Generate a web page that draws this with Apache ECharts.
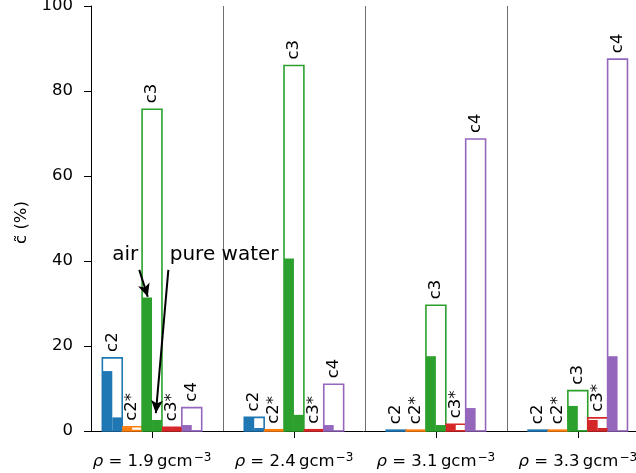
<!DOCTYPE html>
<html>
<head>
<meta charset="utf-8">
<script src="https://cdn.jsdelivr.net/npm/echarts@6/dist/echarts.min.js"></script>
<style>
  html, body { margin: 0; padding: 0; background: #fff; }
  #chart { width: 636px; height: 473px; }
</style>
</head>
<body>
<div id="chart"></div>
<script>
// densities (x groups) and species (bars inside a group)
const densities = ['1.9', '2.4', '3.1', '3.3'];
const species = ['c2', 'c2*', 'c3', 'c3*', 'c4'];
const colors = ['#1f77b4', '#ff7f0e', '#2ca02c', '#d62728', '#9467bd'];
const yTicks = [0, 20, 40, 60, 80, 100];

// rows = densities, columns = species (%)
const totalVals = [
  [17.2, 1.0, 75.7, 0.9, 5.5],
  [3.2, 0.3, 86.0, 0.3, 11.0],
  [0.2, 0.2, 29.6, 1.6, 68.7],
  [0.2, 0.2, 9.5, 3.1, 87.5]
];
const airVals = [
  [14.1, 0.9, 31.4, 0.8, 1.4],
  [3.2, 0.2, 40.6, 0.2, 1.4],
  [0.1, 0.1, 17.6, 1.5, 5.4],
  [0.1, 0.1, 5.9, 2.6, 17.6]
];
const waterVals = [
  [3.2, 0.3, 2.6, 0.7, 0.2],
  [0.7, 0.1, 3.8, 0.1, 0.1],
  [0.1, 0.1, 1.4, 0.2, 0.1],
  [0.1, 0.1, 0.2, 0.7, 0.1]
];

const BAR_W = 0.14;
const FONT = 'DejaVu Sans';

function toRows(table) {
  const rows = [];
  table.forEach((row, i) => row.forEach((v, j) => rows.push([i, j, v])));
  return rows;
}

function barX(i, j) {
  return i + (j - 2) * BAR_W;
}

// hollow bar + rotated species label
function outlineItem(params, api) {
  const i = api.value(0), j = api.value(1), v = api.value(2);
  const xc = barX(i, j);
  const p0 = api.coord([xc - BAR_W / 2, 0]);
  const p1 = api.coord([xc + BAR_W / 2, v]);
  const mid = api.coord([xc, v]);
  return {
    type: 'group',
    children: [{
      type: 'rect',
      shape: { x: p0[0], y: p1[1], width: p1[0] - p0[0], height: p0[1] - p1[1] },
      style: { fill: '#fff', stroke: colors[j], lineWidth: 1.6 }
    }, {
      type: 'text',
      x: mid[0], y: mid[1] - 6,
      rotation: Math.PI / 2,
      style: {
        text: species[j], fill: '#000', font: '16.5px "' + FONT + '"',
        align: 'left', verticalAlign: 'middle'
      }
    }]
  };
}

// filled half bar: side -1 = left half (air), +1 = right half (pure water)
function halfItem(side) {
  return function (params, api) {
    const i = api.value(0), j = api.value(1), v = api.value(2);
    const xc = barX(i, j);
    const xa = side < 0 ? xc - BAR_W / 2 : xc;
    const p0 = api.coord([xa, 0]);
    const p1 = api.coord([xa + BAR_W / 2, v]);
    return {
      type: 'rect',
      shape: { x: p0[0], y: p1[1], width: p1[0] - p0[0], height: p0[1] - p1[1] },
      style: { fill: colors[j] }
    };
  };
}

const chart = echarts.init(document.getElementById('chart'), null, { renderer: 'canvas' });

const option = {
  animation: false,
  grid: { left: 91, right: 0, top: 6, bottom: 42, outerBoundsMode: 'none' },
  xAxis: {
    type: 'value',
    min: -0.43,
    max: 3.41,
    splitLine: { show: false },
    axisLine: { onZero: false, lineStyle: { color: '#000', width: 1 } },
    axisTick: { customValues: [0, 1, 2, 3], length: 7, lineStyle: { color: '#000', width: 1 } },
    axisLabel: {
      customValues: [0, 1, 2, 3],
      margin: 21,
      color: '#000',
      fontFamily: FONT,
      fontSize: 16.5,
      formatter: v => '{i|ρ} = ' + densities[Math.round(v)] + '\u2009gcm{s|−3}',
      rich: {
        i: { fontStyle: 'italic', fontFamily: FONT, fontSize: 16.5, color: '#000' },
        s: { fontFamily: FONT, fontSize: 12, color: '#000', verticalAlign: 'top', padding: [0, 0, 8, 1] }
      }
    }
  },
  yAxis: {
    type: 'value',
    min: 0,
    max: 100,
    interval: 20,
    name: 'c̃ (%)',
    nameLocation: 'middle',
    nameRotate: 90,
    nameGap: 60,
    nameTextStyle: { color: '#000', fontFamily: FONT, fontSize: 16.5, padding: [0, 8, 0, 0] },
    splitLine: { show: false },
    axisLine: { show: true, onZero: false, lineStyle: { color: '#000', width: 1 } },
    axisTick: { show: true, length: 7, lineStyle: { color: '#000', width: 1 } },
    axisLabel: {
      margin: 18, color: '#000', fontFamily: FONT, fontSize: 16.5,
      formatter: v => (yTicks.indexOf(v) >= 0 ? String(v) : '')
    }
  },
  series: [{
    name: 'total',
    type: 'custom',
    renderItem: outlineItem,
    data: toRows(totalVals),
    z: 2,
    markLine: {
      silent: true,
      symbol: ['none', 'none'],
      label: { show: false },
      lineStyle: { color: '#6f6f6f', width: 1, type: 'solid' },
      data: [{ xAxis: 0.5 }, { xAxis: 1.5 }, { xAxis: 2.5 }]
    }
  }, {
    name: 'air',
    type: 'custom',
    renderItem: halfItem(-1),
    data: toRows(airVals),
    z: 3
  }, {
    name: 'pure water',
    type: 'custom',
    renderItem: halfItem(1),
    data: toRows(waterVals),
    z: 4,
    markLine: {
      silent: true,
      z: 10,
      symbol: ['none', 'arrow'],
      symbolSize: [9, 13],
      label: { show: false },
      lineStyle: { color: '#000', width: 2, type: 'solid' },
      data: [
        [{ coord: [-0.09, 37.9] }, { coord: [-0.03, 31.6] }],
        [{ coord: [0.115, 37.9] }, { coord: [0.027, 4.2] }]
      ]
    },
    markPoint: {
      silent: true,
      symbol: 'rect',
      symbolSize: 1,
      itemStyle: { color: 'rgba(0,0,0,0)' },
      label: {
        show: true, position: 'inside', color: '#000',
        fontFamily: FONT, fontSize: 20
      },
      data: [
        { name: 'air', coord: [-0.189, 41.4], label: { formatter: 'air' } },
        { name: 'pure water', coord: [0.508, 41.4], label: { formatter: 'pure water' } }
      ]
    }
  }]
};

chart.setOption(option);
</script>
</body>
</html>
